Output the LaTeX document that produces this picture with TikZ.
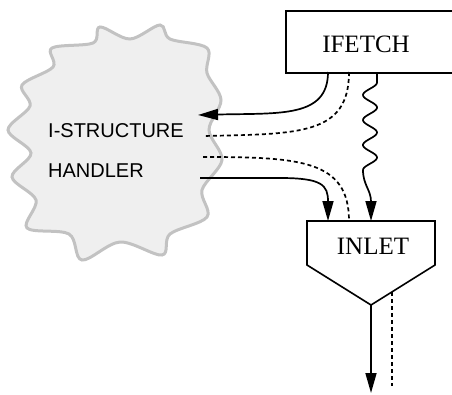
\documentclass[tikz,border=0pt]{standalone}
\usepackage{fontspec}
\setmainfont{Liberation Serif}
\newfontfamily\labelsans{Liberation Sans}
\usetikzlibrary{arrows.meta}
\definecolor{cloudfill}{HTML}{EFEFEF}
\definecolor{cloudline}{HTML}{C2C2C2}
\begin{document}
\begin{tikzpicture}[x=1pt,y=-1pt,
  conn/.style={line width=1.7pt},
  tipped/.style={-{Triangle[length=20pt,width=11pt]}},
  dotline/.style={line width=1.7pt, dash pattern=on 4pt off 3pt},
  boxline/.style={line width=1.6pt},
  serif/.style={font=\fontsize{25}{30}\selectfont, inner sep=0pt, anchor=base},
  sanslab/.style={font=\labelsans\fontsize{20}{24}\selectfont, inner sep=0pt, anchor=base west},
  cloudshape/.style={fill=cloudfill, draw=cloudline, line width=3pt}]
\useasboundingbox (0,0) rectangle (452,394);
\clip (0,0) rectangle (452,394);

% cloud (I-structure handler)
\draw[cloudshape] plot[smooth cycle, tension=0.55] coordinates {(52,48) (93,43) (100,27) (130,39) (160,25) (170,39) (207,48) (207,73) (221,100) (209,130) (222,160) (202,190) (207,217) (170,234) (162,255) (120,242) (82,260) (69,234) (27,228) (36,200) (12,177) (31,153) (8,130) (30,106) (22,85) (53,67)};
\node[sanslab] (lab1) at (48,137) {I-STRUCTURE};
\node[sanslab] (lab2) at (48,177) {HANDLER};

% IFETCH box
\node[draw, boxline, minimum width=175pt, minimum height=62pt, inner sep=0pt, anchor=north west] (ifetch) at (285,10) {};
\node[serif] (ifetchtext) at (366,52) {IFETCH};

% INLET pentagon
\coordinate (pTL) at (307,221);
\coordinate (pTR) at (435,221);
\coordinate (pR) at (435,265);
\coordinate (pB) at (371,305);
\coordinate (pL) at (307,265);
\draw[boxline, line join=miter] (pTL) -- (pTR) -- (pR) -- (pB) -- (pL) -- cycle;
\node[serif] (inlet) at (373,254) {INLET};

% ports
\coordinate (fetchA) at (328,72);
\coordinate (fetchB) at (349,72);
\coordinate (fetchC) at (377,72);
\coordinate (handIn) at (198,115);
\coordinate (handOutA) at (203,136);
\coordinate (handOutB) at (203,157);
\coordinate (handOutC) at (200,178);
\coordinate (inletA) at (328,221);
\coordinate (inletB) at (349,221);
\coordinate (inletC) at (371,221);
\coordinate (outEnd) at (371,393);
\coordinate (dotStart) at (392,292);
\coordinate (dotEnd) at (392,386);

% connectors
\draw[conn, tipped] (fetchA) .. controls (328,118) and (280,113) .. (handIn);
\draw[dotline] (fetchB) .. controls (349,135) and (300,134) .. (handOutA);
\draw[dotline] (handOutB) .. controls (300,157) and (349,160) .. (inletB);
\draw[conn, tipped] (handOutC) -- (280,178) .. controls (322,178) and (328,185) .. (inletA);
\draw[conn, tipped] (fetchC) -- plot[domain=82.5:170, samples=80, variable=\t] ({370+7*cos(14.4*(\t-82.5))}, \t) .. controls (363,185) and (371,190) .. (inletC);
\draw[conn, tipped] (pB) -- (outEnd);
\draw[dotline] (dotStart) -- (dotEnd);
\end{tikzpicture}
\end{document}
